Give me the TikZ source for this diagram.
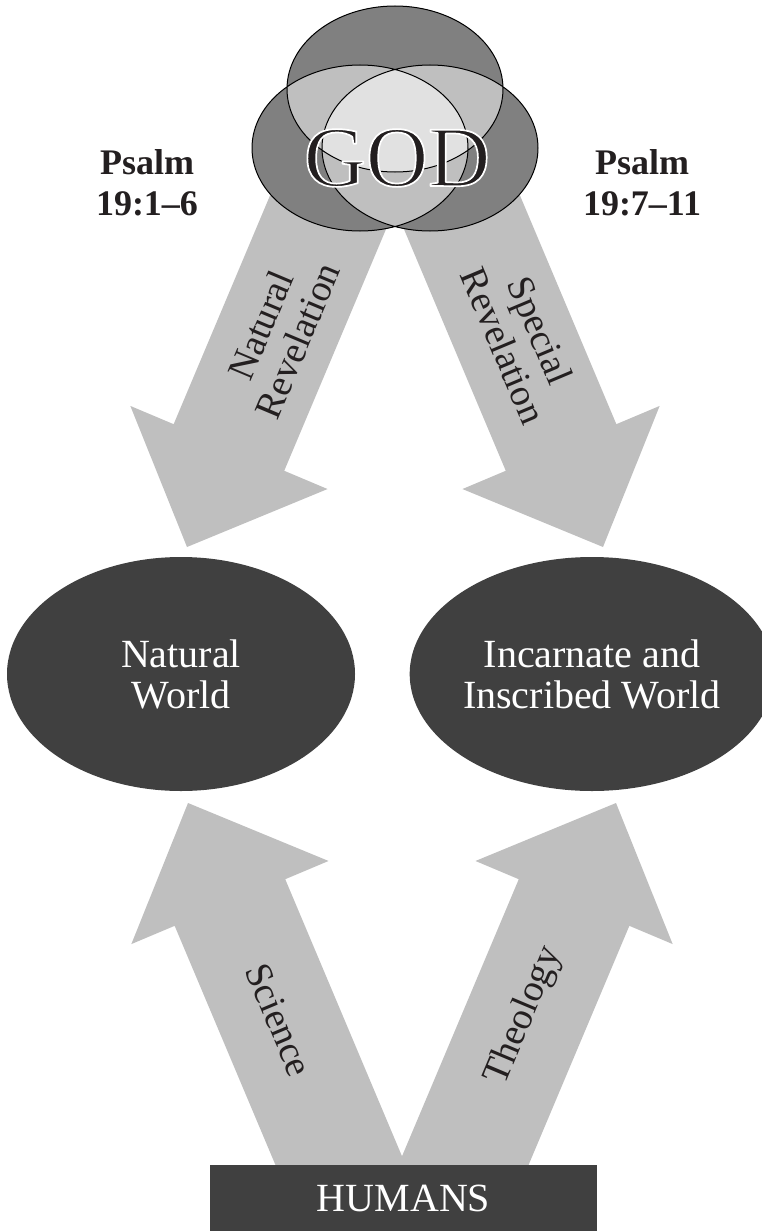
\documentclass[tikz,border=0pt]{standalone}
\usepackage{fontspec}
\setmainfont{Liberation Serif}
\usepackage{tikz}
\usetikzlibrary{shapes.geometric, calc}
\definecolor{inkblack}{RGB}{35,31,32}
\definecolor{worldgray}{RGB}{64,64,64}
\definecolor{arrowgray}{RGB}{191,191,191}
\definecolor{godone}{RGB}{128,128,128}
\definecolor{godtwo}{RGB}{191,191,191}
\definecolor{godthree}{RGB}{225,225,225}
\tikzset{
  world/.style={ellipse, fill=worldgray, text=white, align=center,
                minimum width=348pt, minimum height=234pt, inner sep=0pt,
                font=\fontsize{40}{41}\selectfont},
  humanbox/.style={rectangle, fill=worldgray, text=white,
                   minimum width=387pt, minimum height=67pt,
                   font=\fontsize{40}{40}\selectfont},
  revarrow/.style={fill=arrowgray},
  godring/.style={draw=black, line width=1pt}
}
% block arrow from tail #1 to tip #2
\newcommand{\bigarrow}[2]{%
  \coordinate (ba-base) at ($(#2)!108pt!(#1)$);
  \fill[revarrow] ($(#1)!60pt!90:(#2)$) -- ($(ba-base)!60pt!90:(#2)$)
    -- ($(ba-base)!107pt!90:(#2)$) -- (#2)
    -- ($(ba-base)!107pt!-90:(#2)$) -- ($(ba-base)!60pt!-90:(#2)$)
    -- ($(#1)!60pt!-90:(#2)$) -- cycle;
}
% white-edged letters
\newcommand{\outlined}[1]{%
  \special{pdf:code 2 Tr 1 1 1 RG 1.7 w 1 j}#1\special{pdf:code 0 Tr}}
\begin{document}
\begin{tikzpicture}[x=1pt, y=-1pt,
  armlabel/.style={align=center, text=inkblack, inner sep=0pt,
                   font=\fontsize{38}{40}\selectfont},
  psalm/.style={align=center, text=inkblack, inner sep=0pt,
                font=\bfseries\fontsize{36}{41}\selectfont},
  godtext/.style={inner sep=0pt, text=inkblack,
                  font=\fontsize{86}{86}\selectfont}
]
  \useasboundingbox (0,0) rectangle (762,1231);

  % Arrows from God
  \coordinate (nat-tail)  at (346.5,168.5);
  \coordinate (nat-tip)   at (187,547);
  \coordinate (spec-tail) at (443.5,168.5);
  \coordinate (spec-tip)  at (603,547);
  \bigarrow{nat-tail}{nat-tip}
  \bigarrow{spec-tail}{spec-tip}

  % God
  \def\gtop{(395,89) ellipse [x radius=108, y radius=83]}
  \def\gleft{(360,148) ellipse [x radius=108, y radius=83]}
  \def\gright{(430,148) ellipse [x radius=108, y radius=83]}
  \fill[godone] \gtop \gleft \gright;
  \begin{scope}
    \clip \gtop;
    \fill[godtwo] \gleft \gright;
  \end{scope}
  \begin{scope}
    \clip \gleft;
    \fill[godtwo] \gright;
  \end{scope}
  \begin{scope}
    \clip \gtop; \clip \gleft;
    \fill[godthree] \gright;
  \end{scope}
  \draw[godring] \gtop \gleft \gright;

  \node[godtext] (god) at (397,158) {\outlined{GOD}};

  % Psalms
  \node[psalm] (ps-left)  at (147,183) {Psalm\\19:1--6};
  \node[psalm] (ps-right) at (642,183) {Psalm\\19:7--11};

  \node[armlabel, rotate=67.2]  (natrev)  at (279,333) {Natural\\Revelation};
  \node[armlabel, rotate=-67.2] (specrev) at (522,338) {Special\\Revelation};

  % Worlds
  \node[world] (natworld) at (181,674) {Natural\\World};
  \node[world] (incworld) at (592,674) {Incarnate and\\Inscribed World};

  % Arrows from humans
  \coordinate (sci-tail)  at (358.7,1208);
  \coordinate (sci-tip)   at (188,803);
  \coordinate (theo-tail) at (445.3,1208);
  \coordinate (theo-tip)  at (616,803);
  \bigarrow{sci-tail}{sci-tip}
  \bigarrow{theo-tail}{theo-tip}

  \node[armlabel, rotate=-67.2] (science)  at (279,1020) {Science};
  \node[armlabel, rotate=67.2]  (theology) at (524,1016) {Theology};

  \node[humanbox] (humans) at (403.5,1198.5) {HUMANS};
\end{tikzpicture}
\end{document}
